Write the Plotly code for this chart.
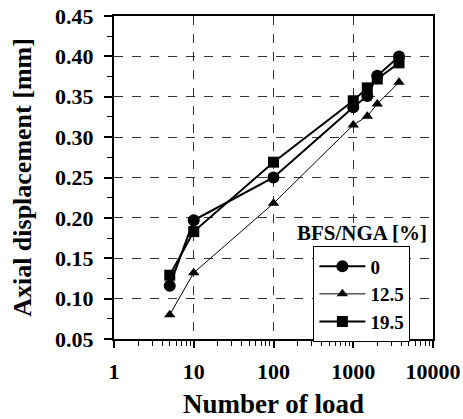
import plotly.graph_objects as go

loads = [5, 10, 100, 1000, 1500, 2000, 3750]
s0 = [0.116, 0.197, 0.250, 0.337, 0.351, 0.376, 0.400]
s125 = [0.080, 0.132, 0.218, 0.315, 0.326, 0.341, 0.368]
s195 = [0.129, 0.183, 0.269, 0.345, 0.361, 0.372, 0.392]
names = ["0", "12.5", "19.5"]

FONT = "Times New Roman, Liberation Serif, serif"
fig = go.Figure()
fig.add_trace(go.Scatter(x=loads, y=s0, name=names[0], mode="lines+markers",
                         line=dict(color="black", width=2),
                         marker=dict(symbol="circle", size=12, color="black")))
fig.add_trace(go.Scatter(x=loads, y=s125, name=names[1], mode="lines+markers",
                         line=dict(color="black", width=1),
                         marker=dict(symbol="triangle-up", size=10, color="black")))
fig.add_trace(go.Scatter(x=loads, y=s195, name=names[2], mode="lines+markers",
                         line=dict(color="black", width=2),
                         marker=dict(symbol="square", size=11, color="black")))

fig.update_layout(
    width=463, height=419,
    margin=dict(l=114, r=30, t=16, b=80),
    plot_bgcolor="white", paper_bgcolor="white",
    font=dict(family=FONT, color="black"),
    showlegend=True,
    legend=dict(x=0.625, y=0.287, xanchor="left", yanchor="top",
                bordercolor="black", borderwidth=1, bgcolor="white",
                font=dict(family=FONT, size=19, color="black", weight="bold"),
                tracegroupgap=0, itemwidth=46),
    annotations=[dict(text="<b>BFS/NGA [%]</b>", x=0.777, y=0.329, xref="paper", yref="paper",
                      showarrow=False, xanchor="center", yanchor="middle",
                      font=dict(family=FONT, size=21, color="black"))],
)
fig.update_xaxes(type="log", range=[0, 4], dtick=1, tickformat="d", automargin=False,
                 showline=True, linecolor="black", linewidth=2, mirror=True,
                 ticks="outside", ticklen=7, tickwidth=1.5, tickcolor="black",
                 ticklabelstandoff=5, ticklabeloverflow="allow",
                 showgrid=True, gridcolor="#333333", griddash="dash", gridwidth=1,
                 minor=dict(ticks="outside", ticklen=5, tickwidth=1.2, tickcolor="black", showgrid=False),
                 tickfont=dict(family=FONT, size=22, weight="bold"),
                 title=dict(text="<b>Number of load</b>", font=dict(family=FONT, size=27), standoff=16),
                 zeroline=False)
fig.update_yaxes(range=[0.05, 0.45], dtick=0.05, tickformat=".2f", automargin=False,
                 showline=True, linecolor="black", linewidth=2, mirror=True,
                 ticks="outside", ticklen=8, tickwidth=1.5, tickcolor="black",
                 ticklabelstandoff=6,
                 showgrid=True, gridcolor="#333333", griddash="dash", gridwidth=1,
                 minor=dict(ticks="outside", ticklen=5, dtick=0.025, tickwidth=1.2, tickcolor="black", showgrid=False),
                 tickfont=dict(family=FONT, size=22, weight="bold"),
                 title=dict(text="<b>Axial displacement [mm]</b>", font=dict(family=FONT, size=26), standoff=16),
                 zeroline=False)

fig.write_html("out.html")
